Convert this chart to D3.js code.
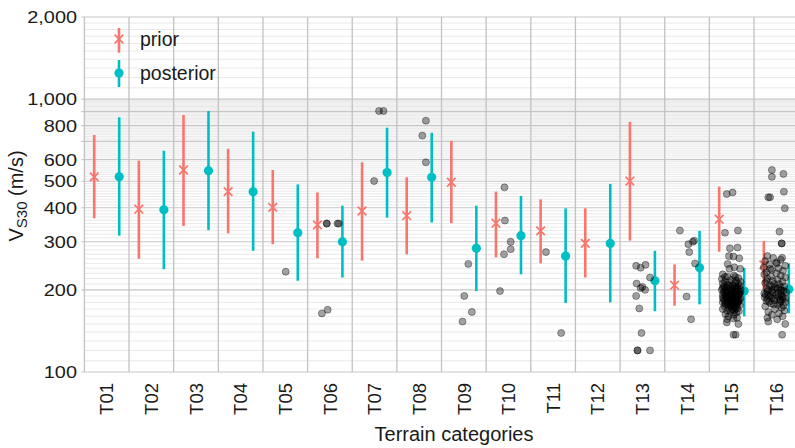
<!DOCTYPE html>
<html><head><meta charset="utf-8">
<script src="https://cdn.jsdelivr.net/npm/d3@7"></script>
<style>
html,body{margin:0;padding:0;background:#fff;}
svg{display:block;font-family:"Liberation Sans",Arial,Helvetica,sans-serif;}
</style></head>
<body>
<svg id="chart" width="795" height="448"></svg>
<script>
// ---------- data ----------
const categories = ["T01","T02","T03","T04","T05","T06","T07","T08","T09","T10","T11","T12","T13","T14","T15","T16"];
const priorMedian = [519, 395, 550, 458, 401, 346, 389, 374, 496, 351, 329, 296, 501, 208, 363, 247];
const priorLow    = [366, 260, 343, 322, 294, 261, 256, 270, 351, 263, 250, 222, 303, 175, 276, 200];
const priorHigh   = [739, 595, 875, 657, 550, 455, 587, 517, 704, 458, 429, 398, 825, 248, 478, 302];
const postMedian  = [519, 393, 547, 458, 324, 300, 538, 517, 284, 316, 266, 296, 216, 241, 198, 201];
const postLow     = [316, 238, 331, 278, 216, 222, 368, 353, 198, 228, 179, 180, 167, 177, 160, 164];
const postHigh    = [858, 647, 905, 760, 487, 407, 786, 753, 407, 442, 398, 489, 278, 329, 241, 250];
const yTickLabels = [100, 200, 300, 400, 500, 600, 800, 1000, 2000];
const legendLabels = ["prior", "posterior"];
// observations: [category, Vs30 (m/s), jitter within category]
const observations = [
 ["T05",233,0.01],
 ["T06",350,-0.07],["T06",350,-0.07],["T06",350,0.17],["T06",350,0.2],["T06",164,-0.18],["T06",169,-0.05],
 ["T07",905,0.10],["T07",905,0.20],["T07",501,-0.01],
 ["T08",834,0.15],["T08",735,0.07],["T08",587,0.15],
 ["T09",249,0.10],["T09",190,0.01],["T09",166,0.18],["T09",153,-0.03],
 ["T10",475,-0.09],["T10",359,-0.08],["T10",300,0.05],["T10",282,0.05],["T10",270,-0.10],["T10",198,-0.19],
 ["T11",275,-0.16],["T11",139,0.18],
 ["T13",245,-0.14],["T13",241,-0.04],["T13",247,0.07],["T13",222,0.17],["T13",211,-0.13],["T13",203,-0.04],
 ["T13",205,0.0],["T13",200,0.06],["T13",190,-0.14],["T13",171,-0.07],["T13",139,-0.02],["T13",120,-0.11],
 ["T13",120,-0.11],["T13",120,0.17],
 ["T14",330,-0.16],["T14",303,0.16],["T14",294,0.03],["T14",300,0.13],["T14",275,0.05],["T14",250,0.18],
 ["T14",189,-0.01],["T14",156,0.09],
 ["T15",449,-0.11],["T15",455,0.02],["T15",324,-0.15],["T15",330,0.14],["T15",284,-0.04],["T15",286,0.13],
 ["T15",266,-0.06],["T15",265,0.04],["T15",261,0.17],["T15",249,-0.09],["T15",242,0.06],["T15",239,-0.05],
 ["T15",239,0.19],["T15",223,-0.15],["T15",223,0.08],["T15",152,-0.11],["T15",150,0.15],["T15",137,0.04],["T15",137,0.09],
 ["T15",228,-0.2],["T15",226,0.05],["T15",224,-0.1],["T15",221,0.15],["T15",219,-0.22],["T15",218,0.0],["T15",216,0.1],
 ["T15",215,-0.15],["T15",214,0.2],["T15",213,-0.05],["T15",212,0.08],["T15",211,-0.2],["T15",210,0.15],["T15",209,-0.1],
 ["T15",208,0.02],["T15",207,0.18],["T15",206,-0.18],["T15",205,-0.03],["T15",204,0.1],["T15",203,-0.12],["T15",202,0.05],
 ["T15",201,0.2],["T15",200,-0.22],["T15",199,-0.06],["T15",198,0.12],["T15",197,-0.15],["T15",196,0.03],["T15",195,0.17],
 ["T15",194,-0.09],["T15",193,0.08],["T15",192,-0.2],["T15",191,0.0],["T15",190,0.14],["T15",189,-0.13],["T15",188,0.06],
 ["T15",187,-0.04],["T15",186,0.19],["T15",185,-0.18],["T15",184,0.1],["T15",183,-0.08],["T15",182,0.02],["T15",181,0.15],
 ["T15",180,-0.2],["T15",179,-0.02],["T15",178,0.09],["T15",177,-0.12],["T15",176,0.18],["T15",175,0.0],["T15",174,-0.16],
 ["T15",173,0.07],["T15",172,-0.06],["T15",171,0.13],["T15",170,-0.2],["T15",169,0.03],["T15",168,-0.1],["T15",167,0.16],
 ["T15",166,-0.03],["T15",165,0.1],["T15",163,-0.14],["T15",162,0.05],["T15",160,-0.07],["T15",158,0.12],["T15",156,-0.1],
 ["T15",157,0.04],["T15",205,0.12],["T15",200,0.08],["T15",195,-0.1],["T15",190,-0.05],["T15",185,0.04],["T15",180,0.11],
 ["T15",197,0.2],["T15",192,0.16],["T15",187,-0.2],["T15",183,0.17],["T15",203,-0.2],["T15",178,-0.14],
 ["T15",208,-0.08],["T15",206,0.06],["T15",204,-0.16],["T15",202,0.14],["T15",200,0.0],["T15",199,-0.12],["T15",198,0.04],
 ["T15",196,-0.18],["T15",195,0.1],["T15",194,-0.02],["T15",193,0.18],["T15",191,-0.14],["T15",190,0.06],["T15",189,-0.06],
 ["T15",188,0.12],["T15",187,0.0],["T15",186,-0.12],["T15",185,0.16],["T15",184,-0.04],["T15",183,0.06],["T15",182,-0.16],
 ["T15",181,-0.01],["T15",180,0.14],["T15",179,-0.09],["T15",178,0.03],["T15",177,0.12],["T15",176,-0.06],["T15",175,0.08],
 ["T15",174,-0.02],["T15",172,0.1],["T15",170,0.0],["T15",168,0.06],
 ["T16",550,-0.10],["T16",532,0.16],["T16",519,-0.10],["T16",437,-0.18],["T16",437,-0.14],["T16",458,0.17],["T16",398,0.19],
 ["T16",327,0.07],["T16",296,0.12],["T16",296,0.12],["T16",262,0.13],["T16",262,-0.07],["T16",250,0.01],["T16",239,-0.14],
 ["T16",153,-0.18],["T16",137,0.13],["T16",150,0.2],
 ["T16",266,-0.2],["T16",258,0.1],["T16",255,-0.25],["T16",252,0.0],["T16",248,-0.15],["T16",245,0.2],["T16",242,-0.28],
 ["T16",240,0.05],["T16",237,-0.1],["T16",235,0.15],["T16",232,-0.22],["T16",230,0.0],["T16",228,-0.27],["T16",226,0.1],
 ["T16",224,-0.12],["T16",222,0.2],["T16",220,-0.2],["T16",218,0.03],["T16",216,-0.08],["T16",214,0.14],["T16",212,-0.25],
 ["T16",210,0.06],["T16",208,-0.15],["T16",206,0.18],["T16",204,-0.02],["T16",202,-0.22],["T16",200,0.1],["T16",198,-0.1],
 ["T16",196,0.22],["T16",194,-0.27],["T16",192,0.0],["T16",190,-0.14],["T16",188,0.15],["T16",186,-0.05],["T16",184,0.08],
 ["T16",182,-0.22],["T16",180,0.2],["T16",178,-0.12],["T16",176,0.04],["T16",174,-0.25],["T16",172,0.12],["T16",170,-0.03],
 ["T16",168,0.18],["T16",166,-0.18],["T16",164,0.06],["T16",162,-0.1],["T16",160,0.14],["T16",158,-0.2],["T16",156,0.02],
 ["T16",205,0.1],["T16",200,-0.18],["T16",195,0.05],["T16",190,0.12],["T16",185,-0.2],["T16",210,-0.05],["T16",215,-0.22],
 ["T16",198,0.17],["T16",188,-0.26],["T16",182,0.1],
 ["T16",206,-0.1],["T16",203,0.04],["T16",201,-0.06],["T16",199,0.12],["T16",197,-0.2],["T16",195,-0.08],["T16",193,0.1],
 ["T16",191,-0.18],["T16",189,0.04],["T16",187,-0.1],["T16",185,0.14],["T16",183,-0.04],["T16",181,-0.16],["T16",179,0.08],
 ["T16",177,-0.06],["T16",175,0.16],["T16",192,-0.24],["T16",186,0.2]
];

// ---------- layout ----------
const svg = d3.select("#chart");
const plotLeft = 84.4, bandW = 44.64, plotTop = 17, plotBottom = 372;
const x = d3.scaleBand().domain(categories).range([plotLeft, plotLeft + bandW * categories.length]).padding(0);
const y = d3.scaleLog().domain([100, 2000]).range([plotBottom, plotTop]);
const prColor = "#F8766D", poColor = "#00BFC4";
const dodge = 0.28;

// grid
const minor = [];
for (let v = 110; v < 1000; v += 10) if (v % 100 !== 0) minor.push(v);
for (let v = 1100; v < 2000; v += 100) minor.push(v);
const major = [];
for (let v = 100; v <= 1000; v += 100) major.push(v);
major.push(2000);
const g = svg.append("g");
g.selectAll("line.minor").data(minor).join("line").attr("class", "minor")
  .attr("x1", plotLeft).attr("x2", 795).attr("y1", d => y(d)).attr("y2", d => y(d))
  .attr("stroke", "#e3e3e3").attr("stroke-width", 0.8);
g.selectAll("line.major").data(major).join("line").attr("class", "major")
  .attr("x1", plotLeft - 3).attr("x2", 795).attr("y1", d => y(d)).attr("y2", d => y(d))
  .attr("stroke", "#c6c6c6").attr("stroke-width", 1.1);
g.selectAll("line.vert").data(categories).join("line").attr("class", "vert")
  .attr("x1", d => x(d)).attr("x2", d => x(d)).attr("y1", plotTop).attr("y2", plotBottom)
  .attr("stroke", "#c2c2c2").attr("stroke-width", 1.3);

// y tick labels
svg.append("g").selectAll("text").data(yTickLabels).join("text")
  .attr("transform", d => `translate(77,${y(d)}) scale(1.17,1)`)
  .attr("text-anchor", "end").attr("dy", "0.36em")
  .attr("font-size", 17).attr("fill", "#1a1a1a")
  .text(d => d3.format(",")(d));

// x tick labels
svg.append("g").selectAll("text").data(categories).join("text")
  .attr("transform", d => `translate(${x(d) + x.bandwidth() / 2},383) rotate(-90)`)
  .attr("text-anchor", "end").attr("dy", "0.36em")
  .attr("font-size", 18.5).attr("fill", "#1a1a1a")
  .text(d => d);

// axis titles
svg.append("text").attr("x", 454).attr("y", 441).attr("text-anchor", "middle")
  .attr("font-size", 20).attr("fill", "#1a1a1a").text("Terrain categories");
const yt = svg.append("text").attr("transform", "translate(23,196) rotate(-90)")
  .attr("text-anchor", "middle").attr("font-size", 20).attr("fill", "#1a1a1a");
yt.append("tspan").text("V");
yt.append("tspan").attr("font-size", 15).attr("dy", 4).text("S30");
yt.append("tspan").attr("dy", -4).text(" (m/s)");

// error bars
const cx = (c, side) => x(c) + x.bandwidth() / 2 + side * dodge * x.bandwidth();
const bars = svg.append("g");
function drawSeries(med, lo, hi, color, side, shape) {
  const gg = bars.append("g");
  gg.selectAll("line").data(categories).join("line")
    .attr("x1", (c) => cx(c, side)).attr("x2", (c) => cx(c, side))
    .attr("y1", (c, i) => y(lo[i])).attr("y2", (c, i) => y(hi[i]))
    .attr("stroke", color).attr("stroke-width", 2.6);
  if (shape === "x") {
    const s = 4.3;
    gg.selectAll("path").data(categories).join("path")
      .attr("d", (c, i) => { const px = cx(c, side), py = y(med[i]);
        return `M${px - s},${py - s}L${px + s},${py + s}M${px - s},${py + s}L${px + s},${py - s}`; })
      .attr("stroke", color).attr("stroke-width", 1.7).attr("fill", "none");
  } else {
    gg.selectAll("circle").data(categories).join("circle")
      .attr("cx", c => cx(c, side)).attr("cy", (c, i) => y(med[i])).attr("r", 4.6)
      .attr("fill", color);
  }
}
drawSeries(priorMedian, priorLow, priorHigh, prColor, -1, "x");
drawSeries(postMedian, postLow, postHigh, poColor, 1, "o");

// observations
svg.append("g").selectAll("circle").data(observations).join("circle")
  .attr("cx", d => x(d[0]) + x.bandwidth() / 2 + d[2] * x.bandwidth())
  .attr("cy", d => y(d[1])).attr("r", 3.5)
  .attr("fill", "#000").attr("fill-opacity", 0.36)
  .attr("stroke", "#000").attr("stroke-opacity", 0.4).attr("stroke-width", 0.9);

// legend
const lg = svg.append("g");
const ly = [39, 73];
lg.append("line").attr("x1", 119).attr("x2", 119).attr("y1", 28).attr("y2", 52.7)
  .attr("stroke", prColor).attr("stroke-width", 2.6);
lg.append("path").attr("d", "M114.7,34.7L123.3,43.3M114.7,43.3L123.3,34.7").attr("stroke", prColor).attr("stroke-width", 1.7);
lg.append("line").attr("x1", 119).attr("x2", 119).attr("y1", 60).attr("y2", 87)
  .attr("stroke", poColor).attr("stroke-width", 2.6);
lg.append("circle").attr("cx", 119).attr("cy", 73).attr("r", 4.6).attr("fill", poColor);
lg.selectAll("text").data(legendLabels).join("text")
  .attr("x", 140).attr("y", (d, i) => ly[i]).attr("dy", "0.36em")
  .attr("font-size", 19.5).attr("fill", "#1a1a1a").text(d => d);
</script>
</body></html>
